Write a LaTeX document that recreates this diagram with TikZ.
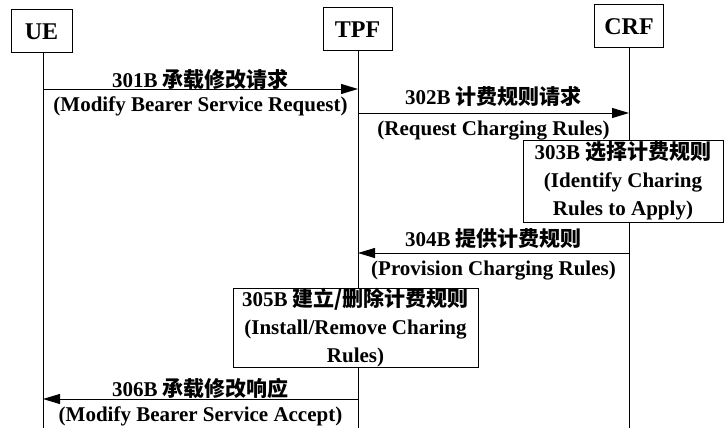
\documentclass[tikz,border=0pt]{standalone}
\usepackage{fontspec}
\setmainfont{Liberation Serif}
\newfontfamily\cjk{Noto Sans CJK SC}
\usetikzlibrary{arrows.meta}

\tikzset{
    entity/.style={draw, fill=white, line width=1pt, minimum height=43pt, inner sep=0pt,
        font=\fontsize{24}{28}\selectfont\bfseries},
    procbox/.style={draw, fill=white, line width=1pt, align=center, inner sep=0pt},
    lifeline/.style={line width=1pt},
    msg/.style={line width=1pt, -{Triangle[length=17pt,width=10pt]}},
    upper/.style={above=-3pt, inner sep=0pt},
    lower/.style={below=7pt, inner sep=0pt}
}

\begin{document}
\begin{tikzpicture}[x=1pt, y=-1pt, font=\fontsize{21}{28}\selectfont\bfseries]
        \useasboundingbox (0,0) rectangle (725,428);

        \node[entity, minimum width=61pt] (ue) at (41.5,31.5) {UE};
        \node[entity, minimum width=69pt] (tpf) at (357.5,29.5) {TPF};
        \node[entity, minimum width=69pt] (crf) at (629,26.5) {CRF};

        \coordinate (ueEnd) at (43,428);
        \coordinate (tpfEnd) at (358,428);
        \coordinate (crfEnd) at (629,428);
        \draw[lifeline] (ue.south -| ueEnd) -- (ueEnd);
        \draw[lifeline] (tpf.south -| tpfEnd) -- (tpfEnd);
        \draw[lifeline] (crf.south -| crfEnd) -- (crfEnd);

        \coordinate (ue1) at (43,89);
        \coordinate (tpf1) at (358,89);
        \coordinate (tpf2) at (358,113);
        \coordinate (crf2) at (629,113);
        \coordinate (crf4) at (629,253);
        \coordinate (tpf4) at (358,253);
        \coordinate (tpf6) at (358,399);
        \coordinate (ue6) at (43,399);

        \draw[msg] (ue1) -- node[upper, yshift=1.5pt] {301B {\cjk 承载修改请求}}
                   node[lower] {(Modify Bearer Service Request)} (tpf1);
        \draw[msg] (tpf2) -- node[upper, yshift=9pt] {302B {\cjk 计费规则请求}}
                   node[lower] {(Request Charging Rules)} (crf2);

        \node[procbox, minimum width=200pt, minimum height=82pt] (identify) at (623,181)
            {303B {\cjk 选择计费规则}\\(Identify Charing\\Rules to Apply)};

        \draw[msg] (crf4) -- node[upper, yshift=6.5pt] {304B {\cjk 提供计费规则}}
                   node[lower] {(Provision Charging Rules)} (tpf4);

        \node[procbox, minimum width=245pt, minimum height=79pt] (install) at (355.5,327.5)
            {305B {\cjk 建立/删除计费规则}\\(Install/Remove Charing\\Rules)};

        \draw[msg] (tpf6) -- node[upper, yshift=2.5pt] {306B {\cjk 承载修改响应}}
                   node[lower] {(Modify Bearer Service Accept)} (ue6);
    \end{tikzpicture}
\end{document}
